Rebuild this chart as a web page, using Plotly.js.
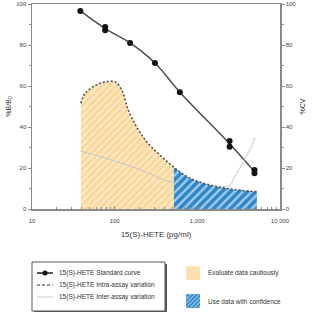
<!DOCTYPE html>
<html>
<head>
<meta charset="utf-8">
<script src="https://cdn.plot.ly/plotly-3.0.1.min.js"></script>
<style>html,body{margin:0;padding:0;background:#fff;}#chart{width:312px;height:312px;}</style>
</head>
<body>
<div id="chart"></div>
<script>
// ---- data ----
var stdX = [38.4, 76.8, 153.6, 307.2, 614.4, 2458, 4915];
var stdMean = [96.6, 88.0, 81.0, 71.2, 57.0, 31.8, 18.2];
var repX = [38.4, 76.8, 76.8, 153.6, 307.2, 614.4, 2458, 2458, 4915, 4915];
var repY = [96.6, 88.8, 87.2, 81.0, 71.2, 57.0, 33.2, 30.4, 19.0, 17.4];

var intraX  = [39, 44, 60, 80, 101, 122, 146, 185, 244, 353, 520, 815, 1420, 2478, 5250];
var intraCV = [51.5, 56.5, 60.5, 62.1, 62.0, 58.0, 48.3, 40.0, 32.8, 26.3, 20.4, 15.0, 11.7, 9.8, 8.4];
var boundaryX = 520;

var interX  = [39, 72, 185, 466, 1000, 1800, 2478, 2840, 3710, 4570, 4980];
var interCV = [28.3, 25.2, 19.8, 13.3, 11.2, 10.6, 11.7, 15.8, 24.0, 31.0, 35.0];

var xTickVals = [10, 100, 1000, 10000];
var xTickText = ['10', '100', '1,000', '10,000'];
var yTickVals = [0, 20, 40, 60, 80, 100];

var legendLabels = ['15(S)-HETE Standard curve', '15(S)-HETE Intra-assay variation', '15(S)-HETE Inter-assay variation'];
var zoneLabels = ['Evaluate data cautiously', 'Use data with confidence'];

// ---- styles ----
var FONT = 'Liberation Sans, Arial, sans-serif';
var yellowBg = '#fbd79b', yellowFg = '#fdeccb';
var blueBg = '#2f86c6', blueFg = '#a3cdee';

var yellowX = [], yellowY = [], blueX = [], blueY = [];
for (var i = 0; i < intraX.length; i++) {
  if (intraX[i] <= boundaryX) { yellowX.push(intraX[i]); yellowY.push(intraCV[i]); }
  if (intraX[i] >= boundaryX) { blueX.push(intraX[i]); blueY.push(intraCV[i]); }
}

var traces = [
  {x: yellowX, y: yellowY, yaxis: 'y2', type: 'scatter', mode: 'lines', line: {width: 0, shape: 'spline'},
   fill: 'tozeroy', fillcolor: yellowBg,
   fillpattern: {shape: '/', bgcolor: yellowBg, fgcolor: yellowFg, size: 5, solidity: 0.4},
   showlegend: false, hoverinfo: 'skip'},
  {x: interX, y: interCV, yaxis: 'y2', type: 'scatter', mode: 'lines', name: legendLabels[2],
   line: {color: '#c4c4c4', width: 1, shape: 'spline'}, showlegend: false},
  {x: blueX, y: blueY, yaxis: 'y2', type: 'scatter', mode: 'lines', line: {width: 0, shape: 'spline'},
   fill: 'tozeroy', fillcolor: blueBg,
   fillpattern: {shape: '/', bgcolor: blueBg, fgcolor: blueFg, size: 6, solidity: 0.4},
   showlegend: false, hoverinfo: 'skip'},
  {x: intraX, y: intraCV, yaxis: 'y2', type: 'scatter', mode: 'lines', name: legendLabels[1],
   line: {color: '#4a4a4a', width: 1.5, dash: '2px,2px', shape: 'spline'}, showlegend: false},
  {x: stdX, y: stdMean, type: 'scatter', mode: 'lines', name: legendLabels[0],
   line: {color: '#4d4d4d', width: 1.5, shape: 'spline'}, showlegend: false},
  {x: repX, y: repY, type: 'scatter', mode: 'markers',
   marker: {color: '#111', size: 6}, showlegend: false}
];

// plot area in pixels: x 32..280, y 4..209
function px(p) { return (p - 32) / 248; }
function py(p) { return (209 - p) / 205; }

function swatch(bg, fg, step) {
  var svg = "<svg xmlns='http://www.w3.org/2000/svg' width='28' height='28'>" +
    "<defs><pattern id='p' width='" + step + "' height='" + step + "' patternUnits='userSpaceOnUse' patternTransform='rotate(45)'>" +
    "<rect width='" + step + "' height='" + step + "' fill='" + bg + "'/>" +
    "<rect width='" + (step * 0.4) + "' height='" + step + "' fill='" + fg + "'/></pattern></defs>" +
    "<rect width='28' height='28' fill='url(#p)'/></svg>";
  return 'data:image/svg+xml;charset=utf-8,' + encodeURIComponent(svg);
}

var legRows = [273, 285, 297];
var shapes = [
  {type: 'rect', xref: 'paper', yref: 'paper', x0: px(34), x1: px(167), y0: py(264), y1: py(313), fillcolor: '#555', line: {width: 0}},
  {type: 'rect', xref: 'paper', yref: 'paper', x0: px(32), x1: px(165), y0: py(262), y1: py(311), fillcolor: '#fff', line: {color: '#555', width: 1}},
  {type: 'line', xref: 'paper', yref: 'paper', x0: px(37), x1: px(53), y0: py(legRows[0]), y1: py(legRows[0]), line: {color: '#222', width: 1.5}},
  {type: 'circle', xref: 'paper', yref: 'paper', x0: px(42.5), x1: px(47.5), y0: py(legRows[0] + 2.5), y1: py(legRows[0] - 2.5), fillcolor: '#111', line: {width: 0}},
  {type: 'line', xref: 'paper', yref: 'paper', x0: px(37), x1: px(53), y0: py(legRows[1]), y1: py(legRows[1]), line: {color: '#333', width: 1.2, dash: '3px,2px'}},
  {type: 'line', xref: 'paper', yref: 'paper', x0: px(37), x1: px(53), y0: py(legRows[2]), y1: py(legRows[2]), line: {color: '#c8c8c8', width: 1}}
];

var annotations = [];
for (var k = 0; k < legendLabels.length; k++) {
  annotations.push({xref: 'paper', yref: 'paper', x: px(57), y: py(legRows[k]), xanchor: 'left', yanchor: 'middle',
    text: legendLabels[k], showarrow: false, font: {family: FONT, size: 6.5, color: '#333'}});
}
var zoneRows = [273, 301];
for (var z = 0; z < zoneLabels.length; z++) {
  annotations.push({xref: 'paper', yref: 'paper', x: px(206), y: py(zoneRows[z]), xanchor: 'left', yanchor: 'middle',
    text: zoneLabels[z], showarrow: false, font: {family: FONT, size: 6.5, color: '#333'}});
}

var images = [
  {source: swatch(yellowBg, yellowFg, 5), xref: 'paper', yref: 'paper', x: px(186), y: py(266), sizex: 14 / 248, sizey: 14 / 205,
   xanchor: 'left', yanchor: 'top', sizing: 'stretch', layer: 'above'},
  {source: swatch(blueBg, blueFg, 6), xref: 'paper', yref: 'paper', x: px(186), y: py(294), sizex: 14 / 248, sizey: 14 / 205,
   xanchor: 'left', yanchor: 'top', sizing: 'stretch', layer: 'above'}
];

var axisCommon = {showline: true, linecolor: '#8a8a8a', linewidth: 1.5, showgrid: false, zeroline: false,
  tickcolor: '#8a8a8a', tickfont: {family: FONT, size: 6, color: '#444'}, automargin: false};

var layout = {
  width: 312, height: 312,
  margin: {l: 32, r: 32, t: 4, b: 103},
  paper_bgcolor: '#fff', plot_bgcolor: '#fff',
  showlegend: false,
  font: {family: FONT},
  xaxis: Object.assign({}, axisCommon, {
    type: 'log', range: [1, 4], tickmode: 'array', tickvals: xTickVals, ticktext: xTickText,
    ticks: 'inside', ticklen: 3, mirror: true, ticklabelstandoff: 5,
    minor: {dtick: 'D1', ticks: 'inside', ticklen: 2, tickcolor: '#8a8a8a'},
    title: {text: '15(S)-HETE (pg/ml)', font: {family: FONT, size: 8, color: '#333'}, standoff: 8}
  }),
  yaxis: Object.assign({}, axisCommon, {
    range: [0, 100], tickmode: 'array', tickvals: yTickVals, ticks: 'outside', ticklen: 3,
    minor: {dtick: 10, ticks: 'outside', ticklen: 2, tickcolor: '#8a8a8a'},
    title: {text: '%B/B<sub>0</sub>', font: {family: FONT, size: 7, color: '#333'}, standoff: 4}
  }),
  yaxis2: Object.assign({}, axisCommon, {
    overlaying: 'y', side: 'right', range: [0, 100], tickmode: 'array', tickvals: yTickVals, ticks: 'outside', ticklen: 3,
    minor: {dtick: 10, ticks: 'outside', ticklen: 2, tickcolor: '#8a8a8a'},
    title: {text: '%CV', font: {family: FONT, size: 7, color: '#333'}, standoff: 4}
  }),
  shapes: shapes,
  annotations: annotations,
  images: images
};

Plotly.newPlot('chart', traces, layout, {staticPlot: true, displayModeBar: false});
</script>
</body>
</html>
